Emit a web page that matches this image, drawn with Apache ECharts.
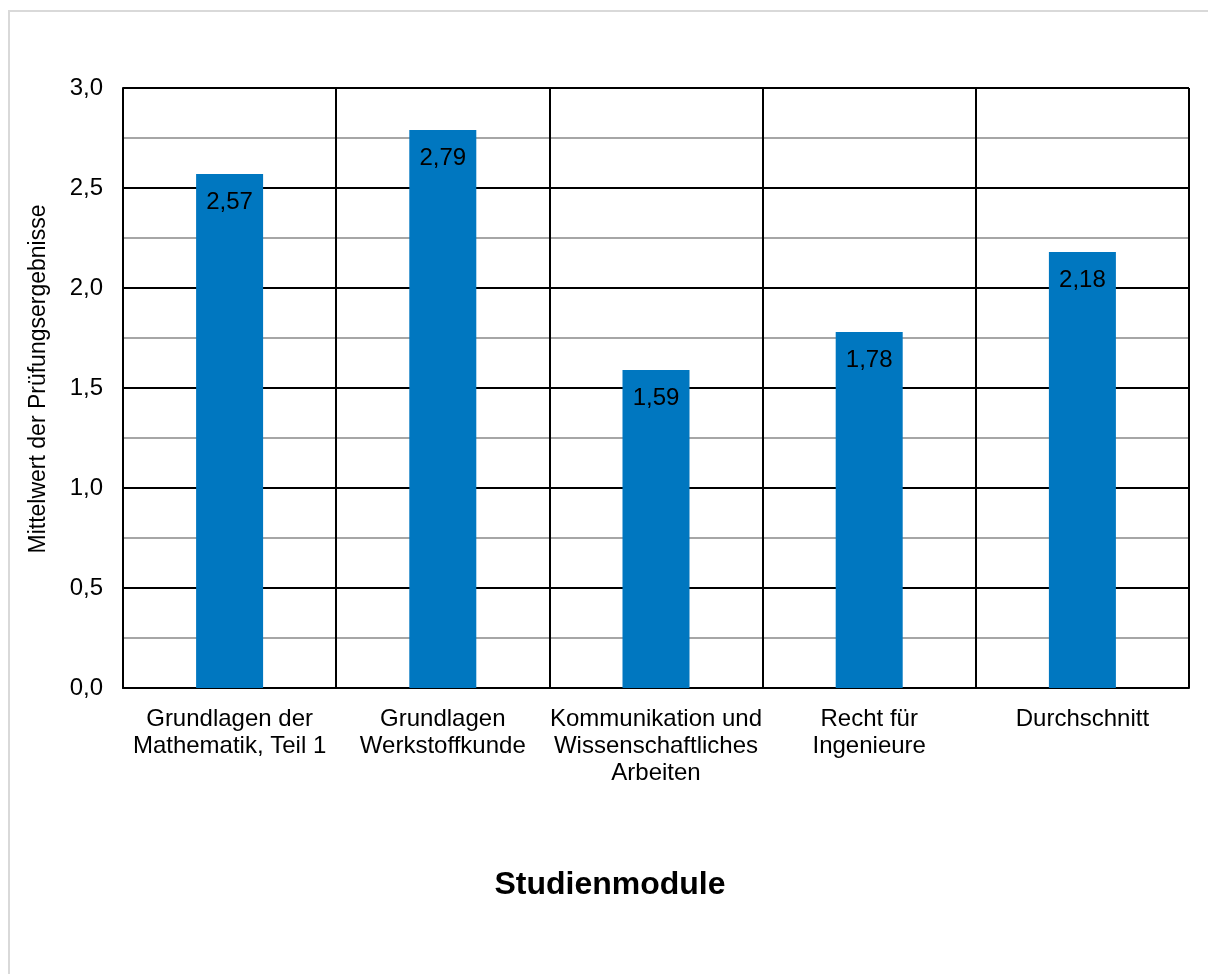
<!DOCTYPE html>
<html>
<head>
<meta charset="utf-8">
<script src="https://cdn.jsdelivr.net/npm/echarts@6/dist/echarts.min.js"></script>
<style>
  html, body { margin: 0; padding: 0; background: #fff; }
  #chart { width: 1208px; height: 974px; }
</style>
</head>
<body>
<div id="chart"></div>
<script>
// Studienmodule und Mittelwerte
var categories = [
  "Grundlagen der\nMathematik, Teil 1",
  "Grundlagen\nWerkstoffkunde",
  "Kommunikation und\nWissenschaftliches\nArbeiten",
  "Recht für\nIngenieure",
  "Durchschnitt"
];
var values = [2.57, 2.79, 1.59, 1.78, 2.18];

var FONT = "Liberation Sans, Arial, sans-serif";
var comma = function (v, d) {
  return Number(v).toFixed(d).replace(".", ",");
};

var chart = echarts.init(document.getElementById("chart"));
chart.setOption({
  animation: false,
  textStyle: { fontFamily: FONT },
  graphic: [{
    type: "rect",
    shape: { x: 9, y: 11, width: 1230, height: 1000 },
    style: { fill: "none", stroke: "#d9d9d9", lineWidth: 2 },
    silent: true
  }, {
    type: "text",
    x: 610,
    y: 885,
    style: {
      text: "Studienmodule",
      fontSize: 32, fontWeight: "bold", fontFamily: FONT,
      fill: "#000", textAlign: "center", textVerticalAlign: "middle"
    }
  }],
  grid: { left: 123, top: 88, width: 1066, height: 600, containLabel: false },
  xAxis: {
    type: "category",
    data: categories,
    boundaryGap: true,
    axisLine: { show: true, lineStyle: { color: "#000", width: 2 } },
    axisTick: { show: false },
    axisLabel: { fontSize: 24, color: "#000", margin: 18, lineHeight: 27, interval: 0, fontFamily: FONT },
    splitLine: { show: true, lineStyle: { color: "#000", width: 2 } }
  },
  yAxis: {
    type: "value",
    min: 0,
    max: 3,
    interval: 0.5,
    name: "Mittelwert der Prüfungsergebnisse",
    nameLocation: "middle",
    nameGap: 73,
    nameTextStyle: { fontSize: 23, color: "#000", fontFamily: FONT, padding: [0, 0, 0, 18] },
    axisLine: { show: true, lineStyle: { color: "#000", width: 2 } },
    axisTick: { show: false },
    axisLabel: {
      fontSize: 24, color: "#000", margin: 20, fontFamily: FONT,
      formatter: function (v) { return comma(v, 1); }
    },
    splitLine: { show: true, lineStyle: { color: "#000", width: 2 } },
    minorTick: { show: false, splitNumber: 2 },
    minorSplitLine: { show: true, lineStyle: { color: "#a6a6a6", width: 2 } }
  },
  series: [{
    type: "bar",
    data: values,
    barWidth: 67,
    itemStyle: { color: "#0077c0" },
    label: {
      show: true,
      position: "insideTop",
      distance: 16,
      fontSize: 24,
      color: "#000",
      fontFamily: FONT,
      formatter: function (p) { return comma(p.value, 2); }
    }
  }]
});
</script>
</body>
</html>
